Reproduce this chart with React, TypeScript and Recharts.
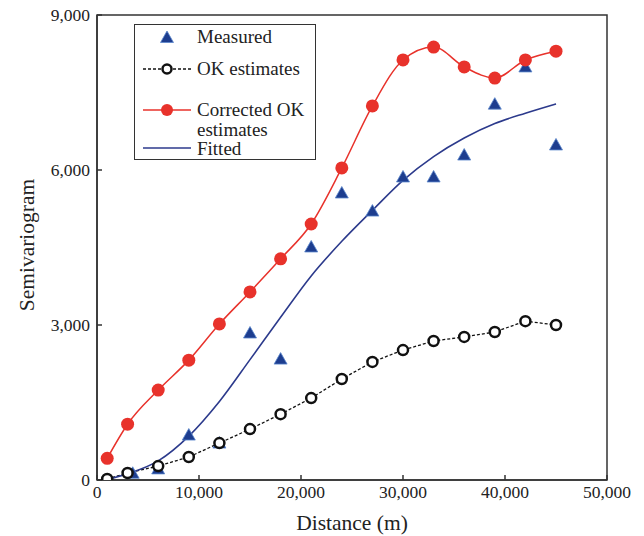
import React from "react";
import { ComposedChart, Line, Scatter, XAxis, YAxis, Legend, ReferenceArea, Label } from "recharts";

const FONT = '"Liberation Serif", "DejaVu Serif", serif';
const INK = "#222";

const distance = [1000, 3000, 6000, 9000, 12000, 15000, 18000, 21000, 24000, 27000, 30000, 33000, 36000, 39000, 42000, 45000];
const okEstimates = [20, 135, 270, 445, 715, 985, 1275, 1585, 1955, 2285, 2515, 2690, 2770, 2865, 3075, 3000];
const correctedOk = [420, 1080, 1740, 2320, 3020, 3640, 4280, 4955, 6040, 7240, 8130, 8380, 7995, 7780, 8130, 8300];
const fitted = [10, 120, 370, 850, 1520, 2330, 3150, 3950, 4620, 5220, 5800, 6260, 6620, 6900, 7100, 7280];

const measuredDistance = [3500, 6000, 9000, 12000, 15000, 18000, 21000, 24000, 27000, 30000, 33000, 36000, 39000, 42000, 45000];
const measured = [130, 215, 870, 715, 2845, 2340, 4510, 5555, 5205, 5865, 5865, 6290, 7275, 7995, 6485];

const xTicks = [0, 10000, 20000, 30000, 40000, 50000];
const yTicks = [0, 3000, 6000, 9000];

const RED = "#e8322b";
const BLUE = "#2c3a8c";
const TRI = "#1d3d8f";

const okData = distance.map((d, i) => ({ d, v: okEstimates[i] }));
const redData = distance.map((d, i) => ({ d, v: correctedOk[i] }));
const fitData = distance.map((d, i) => ({ d, v: fitted[i] }));
const measData = measuredDistance.map((d, i) => ({ d, v: measured[i] }));

const fmt = (v: number) => v.toLocaleString("en-US");

const Triangle = (props: any) => {
  const { cx, cy } = props;
  return (
    <polygon
      points={`${cx},${cy - 6.5} ${cx - 6.5},${cy + 5} ${cx + 6.5},${cy + 5}`}
      fill={TRI}
      stroke="#5a86cc"
      strokeWidth={0.8}
    />
  );
};

const row = (top: number, h = 19): React.CSSProperties => ({
  position: "absolute",
  left: 62,
  top,
  height: h,
  lineHeight: `${h}px`,
  whiteSpace: "nowrap",
});

const sym = (top: number): React.CSSProperties => ({ position: "absolute", left: 0, top, width: 60, height: 20 });

const renderLegend = () => (
  <div
    style={{
      position: "relative",
      width: 180,
      height: 134,
      border: "1.2px solid #333",
      background: "#fff",
      fontFamily: FONT,
      fontSize: 19,
      color: INK,
    }}
  >
    <svg style={sym(2)} width={60} height={20}>
      <polygon points="32,4 25.5,15.5 38.5,15.5" fill={TRI} stroke="#5a86cc" strokeWidth={0.8} />
    </svg>
    <div style={row(2)}>Measured</div>

    <svg style={sym(34)} width={60} height={20}>
      <line x1={8} x2={56} y1={10} y2={10} stroke="#111" strokeWidth={1.3} strokeDasharray="3 2" />
      <circle cx={32} cy={10} r={4.5} fill="#fff" stroke="#111" strokeWidth={2.5} />
    </svg>
    <div style={row(34)}>OK estimates</div>

    <svg style={sym(75)} width={60} height={20}>
      <line x1={8} x2={56} y1={10} y2={10} stroke={RED} strokeWidth={1.5} />
      <circle cx={32} cy={10} r={6} fill={RED} />
    </svg>
    <div style={row(75)}>Corrected OK</div>
    <div style={row(95)}>estimates</div>

    <svg style={sym(113)} width={60} height={20}>
      <line x1={8} x2={56} y1={10} y2={10} stroke={BLUE} strokeWidth={1.5} />
    </svg>
    <div style={row(114)}>Fitted</div>
  </div>
);

export default function App() {
  return (
    <div style={{ position: "absolute", left: 0, top: 0, background: "#fff" }}>
      <ComposedChart width={644} height={536} margin={{ top: 15, right: 37, left: 0, bottom: 0 }}>
        <XAxis
          dataKey="d"
          type="number"
          domain={[0, 50000]}
          ticks={xTicks}
          tickFormatter={fmt}
          height={56}
          stroke="#333"
          strokeWidth={1.5}
          tickSize={-5}
          tickMargin={11}
          tick={{ fill: INK, fontFamily: FONT, fontSize: 17.5 }}
          allowDataOverflow
        >
          <Label
            content={() => (
              <text x={352} y={523} textAnchor="middle" dominantBaseline="central" fill={INK} fontFamily={FONT} fontSize={21.5}>
                Distance (m)
              </text>
            )}
          />
        </XAxis>
        <YAxis
          type="number"
          domain={[0, 9000]}
          ticks={yTicks}
          tickFormatter={fmt}
          width={97}
          stroke="#333"
          strokeWidth={1.5}
          tickSize={-5}
          tickMargin={12}
          tick={{ fill: INK, fontFamily: FONT, fontSize: 17.5 }}
          allowDataOverflow
        >
          <Label
            content={() => (
              <text
                x={27}
                y={245}
                transform="rotate(-90 27 245)"
                textAnchor="middle"
                dominantBaseline="central"
                fill={INK}
                fontFamily={FONT}
                fontSize={21.5}
              >
                Semivariogram
              </text>
            )}
          />
        </YAxis>
        <ReferenceArea x1={0} x2={50000} y1={0} y2={9000} fill="none" stroke="#333" strokeWidth={1.5} />
        <Legend
          layout="horizontal"
          align="center"
          verticalAlign="middle"
          content={renderLegend}
          wrapperStyle={{ left: 134, top: 24, width: 182, height: 136 }}
        />
        <Line
          data={okData}
          dataKey="v"
          type="linear"
          stroke="#111"
          strokeWidth={1.3}
          strokeDasharray="3 2"
          dot={{ r: 5, fill: "#fff", stroke: "#111", strokeWidth: 2.5, strokeDasharray: "" }}
          isAnimationActive={false}
          legendType="none"
        />
        <Line
          data={redData}
          dataKey="v"
          type="monotone"
          stroke={RED}
          strokeWidth={1.5}
          dot={{ r: 6.5, fill: RED, stroke: RED, strokeWidth: 0 }}
          isAnimationActive={false}
        />
        <Line
          data={fitData}
          dataKey="v"
          type="monotone"
          stroke={BLUE}
          strokeWidth={1.6}
          dot={false}
          isAnimationActive={false}
        />
        <Scatter data={measData} dataKey="v" shape={Triangle} isAnimationActive={false} />
      </ComposedChart>
    </div>
  );
}
